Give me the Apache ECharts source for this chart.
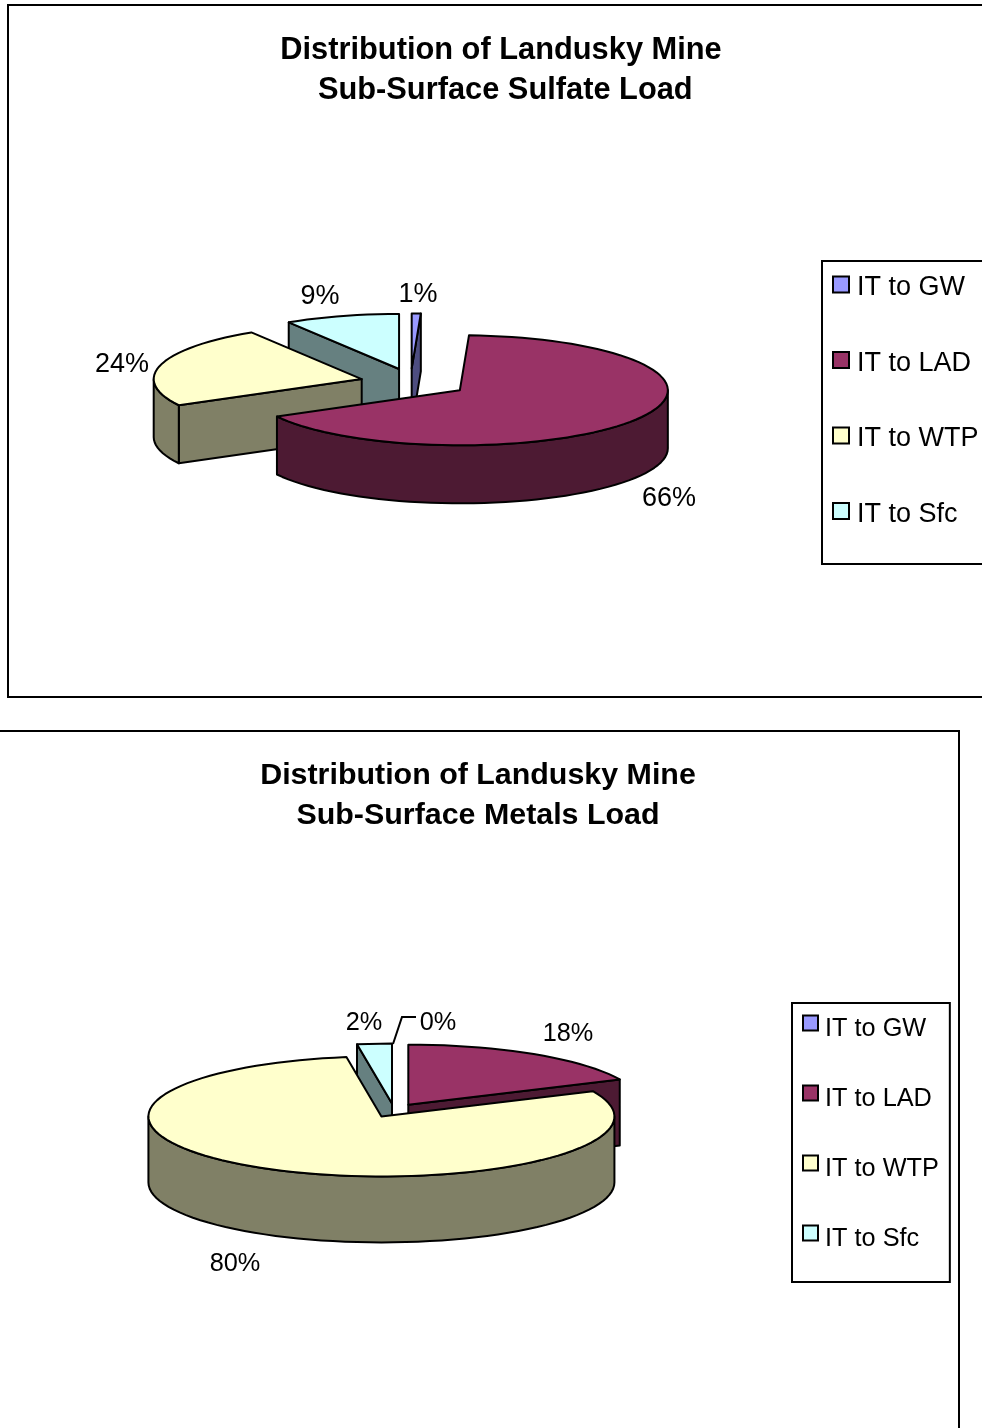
<!DOCTYPE html>
<html>
<head>
<meta charset="utf-8">
<style>
  html, body { margin: 0; padding: 0; background: #fff; overflow: hidden; }
  #chart { width: 982px; height: 1428px; }
</style>
<script src="https://cdn.jsdelivr.net/npm/echarts@6/dist/echarts.min.js"></script>
</head>
<body>
<div id="chart"></div>
<script>
const categories = ['IT to GW', 'IT to LAD', 'IT to WTP', 'IT to Sfc']
// the labels are rounded, slice sizes say a bit more than that
const sulfateValues = [0.7, 66.4, 24, 8.9]
const metalsValues = [0, 18.1, 79.5, 2.4]
const sulfateTitle = 'Distribution of Landusky Mine\n Sub-Surface Sulfate Load'
const metalsTitle = 'Distribution of Landusky Mine\nSub-Surface Metals Load'

const topColors = ['#9999FF', '#993366', '#FFFFCC', '#CCFFFF']
const sideColors = ['#4D4D80', '#4D1A33', '#808066', '#668080']
const fontFamily = '"Liberation Sans", Arial, sans-serif'

// where each pie sits on the page, labels are in the same order as categories
const pies = [
  {
    title: sulfateTitle, values: sulfateValues,
    titleX: 501, titleY: 31, titleSize: 30.8, lineHeight: 40,
    cx: 414, cy: 382.7, rx: 208, ry: 55, depth: 58, explode: 0.26,
    nudge: { 0: -3.5 },
    fontSize: 27,
    labels: [[418, 295], [669, 499], [122, 365], [320, 297]],
    frame: { x: 8, y: 5, width: 1100, height: 692 },
    legend: { left: 822, top: 261, lineHeight: 30, gap: 41.5, padding: [6.5, 10, 36, 10], icon: 16, textPad: [7, 0, 0, 3] }
  },
  {
    title: metalsTitle, values: metalsValues,
    titleX: 478, titleY: 756, titleSize: 30.4, lineHeight: 40,
    cx: 394, cy: 1110.4, rx: 233, ry: 60, depth: 66, explode: 0.114,
    fontSize: 25.3,
    labels: [[438, 1023], [568, 1034], [235, 1264], [364, 1023]],
    leaders: { 0: [[393, 1044], [402, 1017], [416, 1017]] },
    frame: { x: -4, y: 731, width: 963, height: 800 },
    legend: { left: 792, top: 1003, lineHeight: 28, gap: 32, padding: [1, 11, 30, 10], icon: 15, textPad: [13, 0, 0, 2] }
  }
]

const toRad = d => d * Math.PI / 180

function ellipsePoint(pie, ax, ay, t, drop) {
  return [ax + pie.rx * Math.sin(toRad(t)), ay - pie.ry * Math.cos(toRad(t)) + (drop || 0)]
}

function arcPoints(pie, ax, ay, from, to, drop) {
  const pts = []
  const steps = Math.max(1, Math.ceil((to - from) / 3))
  for (let i = 0; i <= steps; i++) {
    pts.push(ellipsePoint(pie, ax, ay, from + (to - from) * i / steps, drop))
  }
  return pts
}

function face(points, fill) {
  return {
    type: 'polygon',
    shape: { points: points },
    style: { fill: fill, stroke: '#000', lineWidth: 2, lineJoin: 'round' }
  }
}

function sliceSeries(pie, index, start, sweep) {
  const end = start + sweep
  const mid = start + sweep / 2
  const nudge = (pie.nudge && pie.nudge[index]) || 0
  const ax = pie.cx + pie.explode * pie.rx * Math.sin(toRad(mid)) + nudge
  const ay = pie.cy - pie.explode * pie.ry * Math.cos(toRad(mid))
  return {
    type: 'custom',
    name: categories[index],
    coordinateSystem: 'none',
    silent: true,
    animation: false,
    // back slices first, the front ones cover them
    z: 10 - Math.cos(toRad(mid)),
    itemStyle: { color: topColors[index] },
    data: [{ name: categories[index], value: pie.values[index] }],
    renderItem: function (params, api) {
      const value = api.value(0)
      const children = []
      if (value > 0) {
        const side = sideColors[index]
        const apex = [ax, ay]
        const apexLow = [ax, ay + pie.depth]
        // cut faces, only the ones turned to the viewer
        if (Math.sin(toRad(start)) < 0) {
          const p = ellipsePoint(pie, ax, ay, start)
          children.push(face([apex, p, [p[0], p[1] + pie.depth], apexLow], side))
        }
        if (Math.sin(toRad(end)) > 0) {
          const p = ellipsePoint(pie, ax, ay, end)
          children.push(face([apex, p, [p[0], p[1] + pie.depth], apexLow], side))
        }
        // outer wall, front half of the ellipse
        const wallFrom = Math.max(start, 90)
        const wallTo = Math.min(end, 270)
        if (wallTo > wallFrom) {
          const upper = arcPoints(pie, ax, ay, wallFrom, wallTo)
          const lower = arcPoints(pie, ax, ay, wallFrom, wallTo, pie.depth).reverse()
          children.push(face(upper.concat(lower), side))
        }
        children.push(face([apex].concat(arcPoints(pie, ax, ay, start, end)), topColors[index]))
      }
      const leader = pie.leaders && pie.leaders[index]
      if (leader) {
        children.push({
          type: 'polyline',
          shape: { points: leader },
          style: { fill: null, stroke: '#000', lineWidth: 2 }
        })
      }
      children.push({
        type: 'text',
        z2: 50,
        style: {
          text: Math.round(value) + '%',
          x: pie.labels[index][0],
          y: pie.labels[index][1],
          align: 'center',
          verticalAlign: 'middle',
          fill: '#000',
          font: pie.fontSize + 'px ' + fontFamily
        }
      })
      return { type: 'group', children: children }
    }
  }
}

const series = []
pies.forEach(pie => {
  const total = pie.values.reduce((a, b) => a + b, 0)
  let start = 0
  pie.values.forEach((v, i) => {
    const sweep = v / total * 360
    series.push(sliceSeries(pie, i, start, sweep))
    start += sweep
  })
})

const myChart = echarts.init(document.getElementById('chart'), null, { renderer: 'canvas' })
myChart.setOption({
  animation: false,
  backgroundColor: '#fff',
  title: pies.map(pie => ({
    text: pie.title,
    left: pie.titleX,
    top: pie.titleY,
    textAlign: 'center',
    padding: 0,
    textStyle: {
      fontFamily: fontFamily,
      fontSize: pie.titleSize,
      fontWeight: 'bold',
      color: '#000',
      lineHeight: pie.lineHeight
    }
  })),
  legend: pies.map(pie => ({
    orient: 'vertical',
    left: pie.legend.left,
    top: pie.legend.top,
    data: categories,
    icon: 'rect',
    itemWidth: pie.legend.icon,
    itemHeight: pie.legend.icon,
    itemGap: pie.legend.gap,
    padding: pie.legend.padding,
    borderColor: '#000',
    borderWidth: 2,
    selectedMode: false,
    itemStyle: { borderColor: '#000', borderWidth: 2 },
    // rich token, plain textStyle padding would not push the text below the icon
    formatter: '{t|{name}}',
    textStyle: {
      rich: {
        t: {
          fontFamily: fontFamily,
          fontSize: pie.fontSize,
          color: '#000',
          lineHeight: pie.legend.lineHeight,
          padding: pie.legend.textPad
        }
      }
    }
  })),
  graphic: pies.map(pie => ({
    type: 'rect',
    silent: true,
    shape: pie.frame,
    style: { fill: null, stroke: '#000', lineWidth: 2 }
  })),
  series: series
})
</script>
</body>
</html>
